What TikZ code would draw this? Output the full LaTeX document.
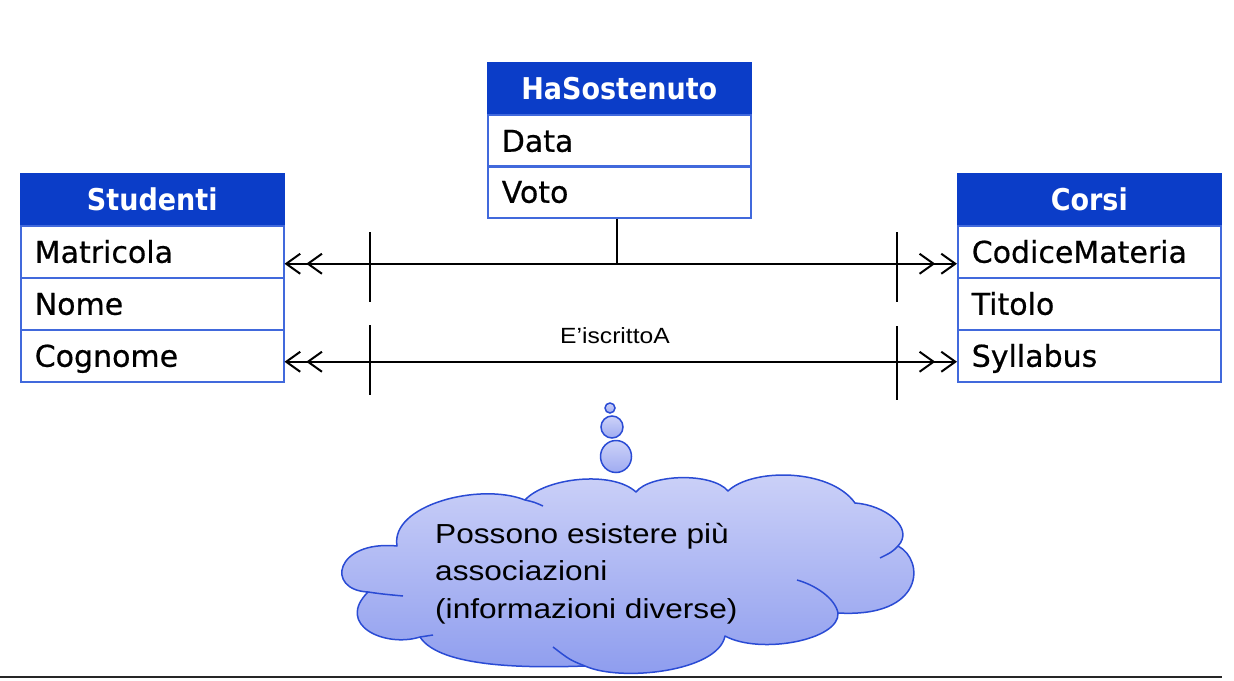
\documentclass[tikz,border=0pt]{standalone}
\usepackage{fontspec}
\setmainfont[FakeBold=0.6]{DejaVu Sans}
\newfontfamily\hdrfont[FakeStretch=0.9]{DejaVu Sans}
\newfontfamily\cloudfont[FakeStretch=1.15]{Liberation Sans}
\newfontfamily\lblfont[FakeStretch=1.12]{Liberation Sans}
\usetikzlibrary{arrows.meta,calc,shapes.geometric}
\definecolor{hdrblue}{HTML}{0B3DC8}
\definecolor{brdblue}{HTML}{4169DC}
\definecolor{cloudline}{HTML}{2A4BD4}
\definecolor{cloudtop}{HTML}{CDD2F8}
\definecolor{cloudbot}{HTML}{8C9BEE}
\tikzset{
  hdr/.style={draw=hdrblue, fill=hdrblue, line width=1.5pt, minimum width=263pt, minimum height=52pt,
    text height=22pt, text depth=0pt, inner sep=0pt, anchor=north west, text=white,
    font=\hdrfont\bfseries\fontsize{30}{32}\selectfont},
  row/.style={draw=brdblue, line width=1.5pt, minimum width=263pt, minimum height=52pt,
    text width=235pt, align=left, inner xsep=14pt, inner ysep=0pt,
    text height=22pt, text depth=0pt, anchor=north west, font=\fontsize{30}{32}\selectfont},
  barbs/.tip={Straight Barb[length=14pt,width=20pt,sep=5pt]Straight Barb[length=14pt,width=20pt]},
  rel/.style={line width=2pt, black, barbs-barbs},
  tick/.style={line width=2pt, black},
  cloudstroke/.style={draw=cloudline, line width=1.5pt},
  bubble/.style={cloudstroke, top color=cloudtop, bottom color=cloudbot!70!cloudtop, inner sep=0pt}
}
\begin{document}
\begin{tikzpicture}[x=1pt,y=-1pt]
\useasboundingbox (0,0) rectangle (1234,680);
% Studenti
\node[hdr] (stud) at (20,173) {Studenti};
\node[row] (matr) at (20,225) {Matricola};
\node[row] (nome) at (20,277) {Nome};
\node[row] (cogn) at (20,329) {Cognome};
% HaSostenuto
\node[hdr] (hs) at (487,62) {HaSostenuto};
\node[row] (data) at (487,114) {Data};
\node[row] (voto) at (487,165) {Voto};
% Corsi
\node[hdr] (corsi) at (957,173) {Corsi};
\node[row] (codm) at (957,225) {CodiceMateria};
\node[row] (tit) at (957,277) {Titolo};
\node[row] (syll) at (957,329) {Syllabus};
% relationships
\draw[rel] ([yshift=-12pt]matr.east) -- ([yshift=-12pt]codm.west);
\draw[rel] ([yshift=-6pt]cogn.east) -- ([yshift=-6pt]syll.west);
\coordinate (t1a) at (370,232); \coordinate (t1b) at (370,302);
\coordinate (t2a) at (897,232); \coordinate (t2b) at (897,302);
\coordinate (t3a) at (370,325); \coordinate (t3b) at (370,395);
\coordinate (t4a) at (897,326); \coordinate (t4b) at (897,400);
\draw[tick] (t1a) -- (t1b);
\draw[tick] (t2a) -- (t2b);
\draw[tick] (t3a) -- (t3b);
\draw[tick] (t4a) -- (t4b);
\coordinate (hsj) at (616,265);
\draw[tick] ([xshift=-2pt]voto.south) -- ([xshift=-2pt]voto.south |- hsj);
\node[anchor=base, inner sep=0pt, font=\lblfont\fontsize{22}{24}\selectfont] (lbl) at (615,343) {E’iscrittoA};
% thought bubbles
\node[bubble, circle, minimum size=10pt] (b1) at (610,408) {};
\node[bubble, circle, minimum size=22pt] (b2) at (612,427) {};
\node[bubble, ellipse, minimum width=31pt, minimum height=32pt] (b3) at (616,456.5) {};
% cloud
\path[top color=cloudtop, bottom color=cloudbot]
  (397,546) .. controls (390,505) and (480,482) .. (525,500)
  .. controls (545,478) and (612,470) .. (636,492)
  .. controls (650,474) and (712,472) .. (728,491)
  .. controls (752,468) and (830,468) .. (855,503)
  .. controls (885,505) and (915,528) .. (898,546)
  .. controls (925,560) and (925,618) .. (838,613)
  .. controls (840,640) and (760,655) .. (725,636)
  .. controls (718,672) and (620,682) .. (585,666)
  .. controls (530,668) and (440,668) .. (420,637)
  .. controls (385,648) and (335,625) .. (368,592)
  .. controls (325,590) and (335,540) .. (397,546) -- cycle;
\draw[cloudstroke, line join=round]
  (397,546) .. controls (390,505) and (480,482) .. (525,500)
  .. controls (545,478) and (612,470) .. (636,492)
  .. controls (650,474) and (712,472) .. (728,491)
  .. controls (752,468) and (830,468) .. (855,503)
  .. controls (885,505) and (915,528) .. (898,546)
  .. controls (925,560) and (925,618) .. (838,613)
  .. controls (840,640) and (760,655) .. (725,636)
  .. controls (718,672) and (620,682) .. (585,666)
  .. controls (530,668) and (440,668) .. (420,637)
  .. controls (385,648) and (335,625) .. (368,592)
  .. controls (325,590) and (335,540) .. (397,546) -- cycle;
\draw[cloudstroke] (368,592) .. controls (382,594) .. (403,596);
\draw[cloudstroke] (420,637) .. controls (426,636) .. (433,635);
\draw[cloudstroke] (525,500) .. controls (534,502) .. (543,506);
\draw[cloudstroke] (898,546) .. controls (892,552) .. (880,558);
\draw[cloudstroke] (838,613) .. controls (835,598) and (815,585) .. (797,580);
\draw[cloudstroke] (585,666) .. controls (570,660) .. (553,647);
\node[anchor=north west, inner sep=0pt, align=left, font=\cloudfont\fontsize{27.5}{37.5}\selectfont] (ctext) at (435,523)
  {Possono esistere più\\associazioni\\(informazioni diverse)};
% bottom rule
\coordinate (r1) at (0,677); \coordinate (r2) at (1222,677);
\draw[line width=2pt, black!85] (r1) -- (r2);
\end{tikzpicture}
\end{document}
